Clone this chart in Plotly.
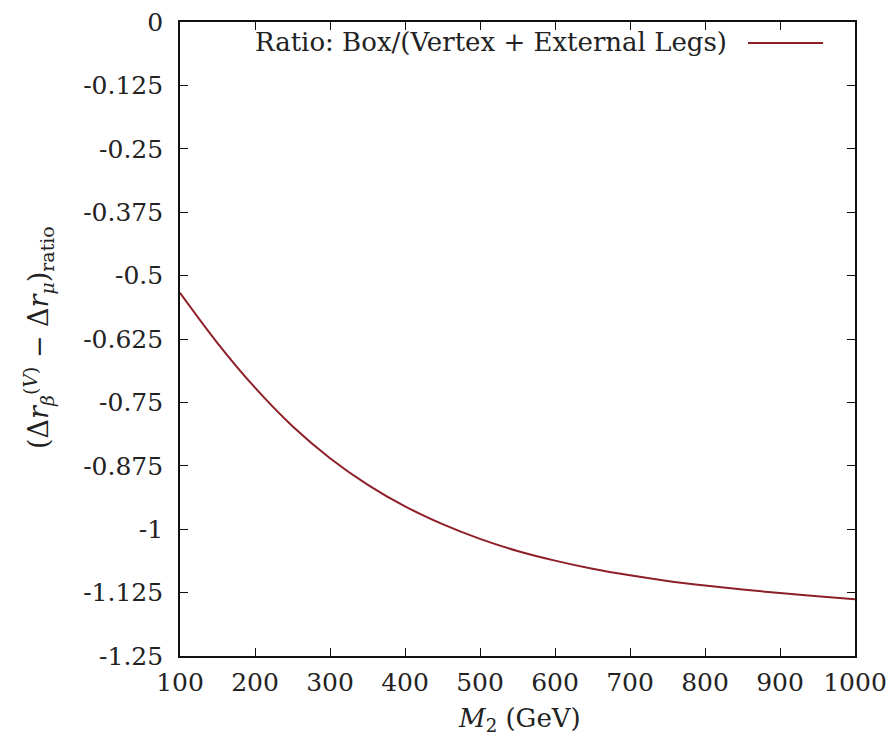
import plotly.graph_objects as go

# M_2 scan (GeV) and the box / (vertex + external legs) ratio
m2_gev = [100, 150, 200, 250, 300, 350, 400, 450, 500, 550,
          600, 650, 700, 750, 800, 850, 900, 950, 1000]
ratio = [-0.534, -0.633, -0.721, -0.797, -0.860, -0.912, -0.955, -0.990,
         -1.019, -1.043, -1.062, -1.078, -1.091, -1.102, -1.111, -1.119,
         -1.126, -1.132, -1.138]

x_ticks = [100, 200, 300, 400, 500, 600, 700, 800, 900, 1000]
y_ticks = [0, -0.125, -0.25, -0.375, -0.5, -0.625, -0.75, -0.875, -1, -1.125, -1.25]
y_tick_text = ["0", "-0.125", "-0.25", "-0.375", "-0.5", "-0.625", "-0.75",
               "-0.875", "-1", "-1.125", "-1.25"]

legend_label = "Ratio: Box/(Vertex + External Legs)"
line_color = "#8e1f29"
font_family = "DejaVu Serif"
text_color = "#222222"

W, H = 893, 738
L, R, T, B = 180, 38, 22, 82
pw, ph = W - L - R, H - T - B


def px_x(p):
    return (p - L) / pw


def px_y(p):
    return 1 - (p - T) / ph


fig = go.Figure()
fig.add_trace(go.Scatter(
    x=m2_gev, y=ratio, mode="lines",
    line=dict(color=line_color, width=2, shape="spline", smoothing=1.0),
    showlegend=False, hoverinfo="skip",
))

axis_common = dict(
    showgrid=False, zeroline=False, showline=True, linecolor="#111111",
    linewidth=1.6, mirror="allticks", ticks="inside", ticklen=8,
    tickwidth=1.4, tickcolor="#111111",
    tickfont=dict(family=font_family, size=25, color=text_color),
)

fig.update_xaxes(range=[100, 1000], tickvals=x_ticks,
                 ticktext=[str(v) for v in x_ticks],
                 ticklabelstandoff=3, **axis_common)
fig.update_yaxes(range=[-1.25, 0], tickvals=y_ticks, ticktext=y_tick_text,
                 ticklabelstandoff=10, **axis_common)

# key: label on the left, line sample on the right
fig.add_annotation(xref="paper", yref="paper", x=px_x(729), y=px_y(42),
                   xanchor="right", yanchor="middle", showarrow=False,
                   text=legend_label,
                   font=dict(family=font_family, size=26, color=text_color))
fig.add_shape(type="line", xref="paper", yref="paper",
              x0=px_x(748), x1=px_x(823), y0=px_y(43), y1=px_y(43),
              line=dict(color=line_color, width=2))

# axis titles
fig.add_annotation(xref="paper", yref="paper", x=px_x(519), y=px_y(719),
                   xanchor="center", yanchor="middle", showarrow=False,
                   text="<i>M</i><sub>2</sub> (GeV)",
                   font=dict(family=font_family, size=26, color=text_color))
fig.add_annotation(xref="paper", yref="paper", x=px_x(38), y=px_y(338),
                   xanchor="center", yanchor="middle", showarrow=False,
                   textangle=-90,
                   text="(Δ<i>r</i><sub><i>β</i></sub><sup>(<i>V</i>)</sup> − "
                        "Δ<i>r</i><sub><i>μ</i></sub>)<sub>ratio</sub>",
                   font=dict(family=font_family, size=27, color=text_color))

fig.update_layout(
    width=W, height=H,
    margin=dict(l=L, r=R, t=T, b=B, autoexpand=False),
    paper_bgcolor="white", plot_bgcolor="white",
    showlegend=False,
)

fig.write_html("out.html")
